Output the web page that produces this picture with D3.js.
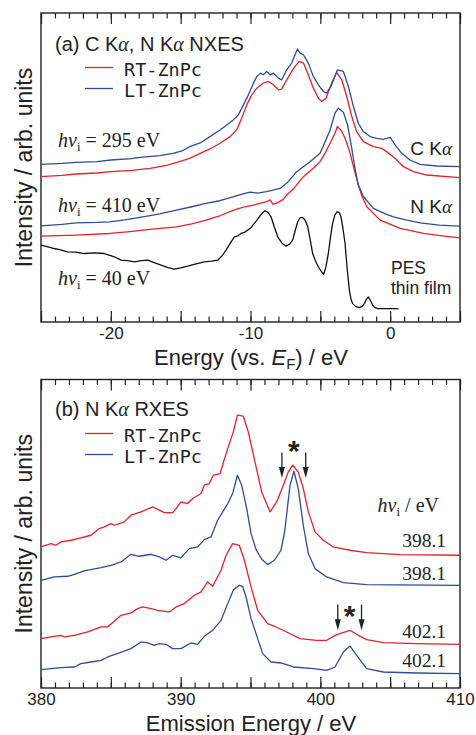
<!DOCTYPE html>
<html>
<head>
<meta charset="utf-8">
<script src="https://cdn.jsdelivr.net/npm/d3@7"></script>
<style>
  body { margin: 0; background: #fff; }
  svg { display: block; }
  text { font-family: "Liberation Sans", Arial, sans-serif; fill: #222; }
  .serif { font-family: "Liberation Serif", "Times New Roman", serif; }
  .mono { font-family: "DejaVu Sans Mono", monospace; }
</style>
</head>
<body>
<svg id="chart" width="476" height="735"></svg>
<script>
// (a) NXES spectra, energy vs. E_F (eV) / intensity (arb. units, stacked)
var ckaLT = [[-25,47.2],[-23.5,47.5],[-22.5,47.8],[-21,48.0],[-20,48.5],[-18.5,48.9],[-17.9,49.3],[-16.5,49.8],[-15.55,50.5],[-14.9,51.2],[-14.35,52.5],[-13.6,53.6],[-12.9,55.5],[-12.18,57.5],[-11.7,59.0],[-11.23,60.5],[-10.87,62.0],[-10.51,65.0],[-10.15,68.0],[-9.79,71.5],[-9.55,73.5],[-9.27,74.5],[-9.08,74.0],[-8.84,75.0],[-8.6,74.0],[-8.36,74.5],[-8.0,73.0],[-7.77,72.5],[-7.41,75.5],[-7.05,77.5],[-6.81,80.0],[-6.64,81.7],[-6.45,80.5],[-6.21,80.0],[-5.86,77.5],[-5.5,73.5],[-5.14,71.0],[-4.78,69.0],[-4.54,68.5],[-4.19,71.0],[-3.78,75.5],[-3.35,75.0],[-2.99,70.5],[-2.63,64.5],[-2.28,59.5],[-1.92,57.0],[-1.44,55.5],[-0.96,55.0],[-0.49,54.7],[0,55.3],[0.35,53.0],[0.83,50.5],[1.42,48.5],[2.14,47.2],[3.33,46.7],[5,46.5]];
var ckaRT = [[-25,43.5],[-23.5,43.9],[-22.5,44.3],[-21,44.6],[-20,45.0],[-18.5,45.4],[-17.2,46.0],[-16,46.9],[-15.1,48.0],[-14.4,48.9],[-13.6,50.5],[-12.9,51.8],[-12.18,53.5],[-11.46,55.5],[-10.99,57.5],[-10.63,61.0],[-10.27,65.0],[-9.91,68.0],[-9.55,70.0],[-9.08,71.5],[-8.72,72.0],[-8.36,71.0],[-8.0,69.5],[-7.77,69.7],[-7.41,72.5],[-7.05,75.0],[-6.81,76.5],[-6.5,78.0],[-6.21,77.5],[-5.86,74.0],[-5.5,70.0],[-5.14,67.0],[-4.9,66.0],[-4.59,67.0],[-4.19,71.5],[-3.83,74.7],[-3.47,72.5],[-3.11,67.5],[-2.75,61.5],[-2.4,57.0],[-1.92,54.0],[-1.2,52.5],[-0.61,52.0],[-0.25,51.0],[0.35,49.0],[0.95,46.5],[1.66,45.0],[2.62,44.0],[5,43.2]];
var nkaLT = [[-25,28.8],[-23.5,29.2],[-22.5,29.7],[-21,29.8],[-20.1,30.0],[-19,30.6],[-17.7,31.5],[-16.5,32.4],[-15.3,33.5],[-14.2,34.5],[-13.2,35.5],[-12.2,36.3],[-11.2,37.5],[-10.6,38.3],[-10.05,38.9],[-9.5,38.6],[-8.85,39.0],[-7.88,40.0],[-7.3,42.0],[-6.69,45.0],[-5.74,48.0],[-5.02,50.5],[-4.6,54.5],[-4.3,57.5],[-3.95,62.5],[-3.71,64.0],[-3.35,62.8],[-3.05,59.0],[-2.75,52.0],[-2.5,45.5],[-2.28,41.0],[-1.91,37.5],[-1.2,34.0],[-0.3,32.3],[0.24,31.5],[1.2,30.5],[2.15,29.7],[3.5,29.0],[5,28.7]];
var nkaRT = [[-25,25.7],[-22.5,26.0],[-20.1,26.5],[-18.8,27.0],[-17.7,27.5],[-16.5,28.0],[-15.3,28.5],[-14.2,29.4],[-13.2,30.5],[-12.2,31.8],[-11.2,33.5],[-10.5,34.4],[-9.8,35.0],[-8.85,36.0],[-8.6,36.6],[-8.4,35.3],[-8.1,35.6],[-7.66,36.7],[-7.41,38.0],[-6.94,39.8],[-6.21,43.5],[-5.5,46.0],[-5.02,48.0],[-4.6,51.0],[-4.3,53.5],[-3.95,56.5],[-3.78,58.5],[-3.5,57.3],[-3.23,55.0],[-2.9,51.0],[-2.63,46.5],[-2.28,41.0],[-2.0,37.5],[-1.67,34.5],[-0.72,30.5],[0.72,28.0],[2.39,26.5],[3.7,25.8],[5,25.2]];
var pesFilm = [[-25,23.0],[-24.5,22.5],[-24.05,22.0],[-23.6,21.6],[-23.1,21.0],[-22.5,20.9],[-21.9,20.5],[-21.2,20.7],[-20.47,20.5],[-19.8,19.6],[-19.27,18.5],[-18.8,18.4],[-18.3,18.0],[-17.8,18.4],[-17.36,18.5],[-16.9,17.8],[-16.4,17.0],[-15.9,16.3],[-15.45,15.8],[-15.0,16.2],[-14.5,16.7],[-13.9,17.4],[-13.3,18.0],[-12.8,18.2],[-12.35,18.5],[-12.0,20.0],[-11.75,21.5],[-11.45,23.6],[-11.15,25.5],[-10.9,25.8],[-10.68,26.5],[-10.45,26.8],[-10.2,27.5],[-9.95,28.3],[-9.73,29.5],[-9.55,30.4],[-9.37,31.5],[-9.15,32.6],[-8.96,33.3],[-8.75,32.8],[-8.53,31.5],[-8.3,28.5],[-8.05,25.5],[-7.75,23.6],[-7.46,22.7],[-7.2,23.3],[-6.98,24.5],[-6.8,27.4],[-6.62,30.0],[-6.45,31.2],[-6.27,31.3],[-6.08,30.4],[-5.9,28.5],[-5.72,24.5],[-5.55,20.5],[-5.3,17.8],[-5.07,16.0],[-4.9,15.0],[-4.76,14.3],[-4.6,16.5],[-4.43,20.5],[-4.27,25.5],[-4.12,29.5],[-3.96,32.0],[-3.81,33.0],[-3.65,32.8],[-3.52,31.5],[-3.38,28.0],[-3.23,23.5],[-3.08,16.0],[-2.92,9.5],[-2.8,6.8],[-2.69,5.5],[-2.45,4.6],[-2.21,4.3],[-2.0,4.7],[-1.85,5.5],[-1.7,6.8],[-1.56,7.5],[-1.42,6.5],[-1.25,5.0],[-1.08,4.3],[-0.9,4.0],[0.3,4.0],[0.6,3.9]];

// (b) RXES spectra, emission energy (eV) / intensity (arb. units, stacked)
var rxes398RT = [[380,42.3],[380.72,43.3],[381.07,42.8],[381.43,43.8],[382.15,44.3],[382.63,44.8],[383.58,45.8],[384.18,47.8],[384.53,48.3],[385.01,49.3],[385.25,48.8],[385.97,49.8],[386.44,51.8],[387.16,52.8],[388.0,54.3],[388.4,53.5],[388.83,52.6],[389.43,52.6],[389.67,53.8],[390.02,55.8],[390.5,55.3],[390.86,56.8],[391.46,58.3],[391.69,60.8],[392.05,61.3],[392.34,63.8],[392.82,64.3],[393.29,70.8],[393.77,76.8],[394.06,81.8],[394.49,81.5],[394.84,76.8],[395.32,67.8],[395.8,58.8],[396.4,52.8],[396.87,55.8],[397.35,60.8],[397.71,64.8],[398.02,66.8],[398.42,64.8],[398.78,59.8],[399.14,52.8],[399.62,46.8],[400.21,44.3],[400.93,42.3],[402.12,41.3],[403.32,40.6],[405.7,40.0],[410,39.8]];
var rxes398LT = [[380,32.3],[380.95,33.3],[381.91,33.5],[382.39,34.1],[383.1,35.1],[384.3,36.1],[385.01,36.8],[385.73,37.8],[386.44,40.1],[387.04,39.5],[387.88,40.1],[388.47,39.3],[388.95,38.3],[389.43,39.8],[390.02,39.0],[390.62,41.8],[391.22,42.3],[391.69,44.5],[392.17,45.3],[392.65,50.3],[393.37,55.3],[393.72,58.3],[394.06,63.8],[394.37,60.8],[394.73,53.8],[395.04,46.3],[395.4,41.5],[395.8,38.6],[396.23,37.0],[396.71,38.3],[397.18,41.3],[397.45,47.0],[397.83,60.8],[398.11,65.0],[398.42,59.8],[398.78,48.8],[399.14,40.3],[399.62,35.8],[400.45,33.3],[401.65,31.6],[403.32,31.0],[410,30.8]];
var rxes402RT = [[380,14.8],[380.72,15.3],[381.43,15.8],[381.67,15.3],[382.39,15.8],[383.34,16.8],[384.3,18.3],[384.77,18.3],[385.73,21.8],[386.44,22.5],[386.92,23.8],[387.28,24.3],[387.88,23.8],[388.35,23.3],[389.19,22.8],[389.67,24.3],[390.26,25.3],[390.98,27.8],[391.46,28.8],[391.93,31.8],[392.29,30.5],[392.89,35.3],[393.25,39.8],[393.72,43.3],[394.2,42.8],[394.56,38.3],[395.04,30.3],[395.51,23.3],[396.23,19.3],[396.83,18.3],[397.59,16.8],[398.54,14.8],[399.74,14.3],[400.45,14.3],[401.17,16.0],[402.12,17.3],[402.72,15.8],[403.32,14.5],[404.51,13.6],[406.9,13.3],[410,13.1]];
var rxes402LT = [[380,5.5],[381.43,6.1],[382.39,6.3],[382.86,7.3],[383.58,7.8],[384.3,8.3],[384.77,9.3],[385.61,10.5],[386.44,11.8],[387.16,13.8],[387.64,13.5],[388.11,12.8],[388.47,13.3],[388.95,13.1],[389.43,11.8],[390.02,11.8],[390.74,13.5],[391.22,13.1],[391.69,15.5],[392.29,17.3],[392.89,20.3],[393.37,25.3],[393.79,29.5],[394.2,30.8],[394.44,30.5],[394.68,27.3],[395.04,20.8],[395.87,10.3],[396.47,7.8],[397.18,7.5],[398.07,6.3],[399.5,5.8],[400.45,5.3],[401.05,6.3],[401.65,10.8],[402.12,12.6],[402.6,9.8],[403.32,5.8],[404.51,4.8],[406.9,4.5],[410,4.3]];

// excitation energies, asterisk/arrow intensities
var excitation = [398.1, 402.1];
var markTop = [72.8, 23.3];
var arrowSpan = [[70.6, 63.0], [25.0, 17.3]];
var arrowHalfWidth = 0.85;

var ticksA = [-20, -10, 0];
var ticksB = [380, 390, 400, 410];

var RED = "#e8202a", BLUE = "#2b4c9f", BLACK = "#111";

var svg = d3.select("#chart");
var left = 41, right = 460;

function makePanel(top, bottom, domain, labels) {
  var x = d3.scaleLinear().domain(domain).range([left, right]);
  var y = d3.scaleLinear().domain([0, 92.5]).range([bottom, top]);
  var g = svg.append("g");

  var minor = d3.range(domain[0], domain[1] + 0.5, 1);
  var major = d3.range(domain[0], domain[1] + 0.5, 5);

  // bottom ticks point up (inward)
  g.append("g").attr("transform", "translate(0," + bottom + ")")
    .call(d3.axisBottom(x).tickValues(minor).tickSize(-5.5).tickFormat(""));
  g.append("g").attr("class", "lab").attr("transform", "translate(0," + bottom + ")")
    .call(d3.axisBottom(x).tickValues(major).tickSize(-11).tickPadding(5)
      .tickFormat(function(d) { return labels.indexOf(d) >= 0 ? String(d) : ""; }));
  // top ticks point down
  g.append("g").attr("transform", "translate(0," + top + ")")
    .call(d3.axisTop(x).tickValues(minor).tickSize(-5.5).tickFormat(""));
  g.append("g").attr("transform", "translate(0," + top + ")")
    .call(d3.axisTop(x).tickValues(major).tickSize(-11).tickFormat(""));

  g.selectAll(".domain").remove();
  g.selectAll(".tick line").attr("stroke", "#222").attr("stroke-width", 1.2);
  g.selectAll(".lab text").attr("font-size", 17).attr("fill", "#222")
    .attr("font-family", "Liberation Sans, Arial, sans-serif");

  g.append("rect").attr("x", left).attr("y", top)
    .attr("width", right - left).attr("height", bottom - top)
    .attr("fill", "none").attr("stroke", "#222").attr("stroke-width", 1.4);

  // y title
  g.append("text").attr("transform", "translate(32," + ((top + bottom) / 2) + ") rotate(-90)")
    .attr("text-anchor", "middle").attr("font-size", 23)
    .text("Intensity / arb. units");

  return { x: x, y: y, g: g };
}

function drawLine(p, data, color) {
  var line = d3.line().x(function(d) { return p.x(d[0]); }).y(function(d) { return p.y(d[1]); });
  p.g.append("path").datum(data).attr("d", line)
    .attr("fill", "none").attr("stroke", color).attr("stroke-width", 1.3)
    .attr("stroke-linejoin", "round");
}

function alphaLabel(sel, parts) {
  parts.forEach(function(t) {
    if (t === "α") sel.append("tspan").attr("class", "serif").attr("font-style", "italic").text("α");
    else sel.append("tspan").text(t);
  });
}

function hvLabel(g, x, y, rest, anchor) {
  var t = g.append("text").attr("class", "serif").attr("x", x).attr("y", y)
    .attr("font-size", 20).attr("text-anchor", anchor || "start");
  t.append("tspan").attr("font-style", "italic").text("hν");
  t.append("tspan").attr("font-size", 13).attr("dy", 4).text("i");
  t.append("tspan").attr("dy", -4).text(rest);
}

function legend(g, y0) {
  [[RED, "RT-ZnPc"], [BLUE, "LT-ZnPc"]].forEach(function(d, i) {
    var yy = y0 + i * 21;
    g.append("line").attr("x1", 85).attr("x2", 113).attr("y1", yy).attr("y2", yy)
      .attr("stroke", d[0]).attr("stroke-width", 1.3);
    g.append("text").attr("class", "mono").attr("x", 124).attr("y", yy + 8.4)
      .attr("font-size", 18.5).text(d[1]);
  });
}

// ---------- panel (a) ----------
var pa = makePanel(13, 322, [-25, 5], ticksA);
drawLine(pa, ckaRT, RED);
drawLine(pa, ckaLT, BLUE);
drawLine(pa, nkaRT, RED);
drawLine(pa, nkaLT, BLUE);
drawLine(pa, pesFilm, BLACK);

alphaLabel(pa.g.append("text").attr("x", 55).attr("y", 51).attr("font-size", 20),
  ["(a) C K", "α", ", N K", "α", " NXES"]);
legend(pa.g, 67.5);
hvLabel(pa.g, 58, 147, " = 295 eV");
hvLabel(pa.g, 58, 212, " = 410 eV");
hvLabel(pa.g, 58, 285, " = 40 eV");
alphaLabel(pa.g.append("text").attr("x", 452).attr("y", 155).attr("font-size", 19).attr("text-anchor", "end"), ["C K", "α"]);
alphaLabel(pa.g.append("text").attr("x", 452).attr("y", 213).attr("font-size", 19).attr("text-anchor", "end"), ["N K", "α"]);
pa.g.append("text").attr("x", 391).attr("y", 274).attr("font-size", 17.5).text("PES");
pa.g.append("text").attr("x", 391).attr("y", 293.5).attr("font-size", 17.5).text("thin film");

var tA = pa.g.append("text").attr("x", 251).attr("y", 365).attr("text-anchor", "middle").attr("font-size", 22);
tA.append("tspan").text("Energy (vs. ");
tA.append("tspan").attr("font-style", "italic").text("E");
tA.append("tspan").attr("font-size", 15).attr("dy", 4).text("F");
tA.append("tspan").attr("dy", -4).text(") / eV");

// ---------- panel (b) ----------
var pb = makePanel(379.5, 688, [380, 410], ticksB);
drawLine(pb, rxes398RT, RED);
drawLine(pb, rxes398LT, BLUE);
drawLine(pb, rxes402RT, RED);
drawLine(pb, rxes402LT, BLUE);

alphaLabel(pb.g.append("text").attr("x", 55).attr("y", 415.5).attr("font-size", 20),
  ["(b) N K", "α", " RXES"]);
legend(pb.g, 433.5);
hvLabel(pb.g, 439, 512, " / eV", "end");
[[547, "398.1"], [580, "398.1"], [637.5, "402.1"], [667, "402.1"]].forEach(function(d) {
  pb.g.append("text").attr("class", "serif").attr("x", 446).attr("y", d[0])
    .attr("font-size", 19.5).attr("text-anchor", "end").text(d[1]);
});

// asterisks and arrows at the elastic peaks
excitation.forEach(function(e, i) {
  pb.g.append("text").attr("x", pb.x(e)).attr("y", pb.y(markTop[i]) + 16)
    .attr("text-anchor", "middle").attr("font-size", 30).attr("font-weight", "bold").text("*");
  [-1, 1].forEach(function(s) {
    var ax = pb.x(e + s * arrowHalfWidth);
    var y1 = pb.y(arrowSpan[i][0]), y2 = pb.y(arrowSpan[i][1]);
    pb.g.append("line").attr("x1", ax).attr("x2", ax).attr("y1", y1).attr("y2", y2 - 9)
      .attr("stroke", "#222").attr("stroke-width", 1.3);
    pb.g.append("path").attr("d", "M" + (ax - 3) + "," + (y2 - 11) + "L" + (ax + 3) + "," + (y2 - 11) + "L" + ax + "," + y2 + "Z")
      .attr("fill", "#222");
  });
});

pb.g.append("text").attr("x", 251).attr("y", 731).attr("text-anchor", "middle").attr("font-size", 22)
  .text("Emission Energy / eV");
</script>
</body>
</html>
